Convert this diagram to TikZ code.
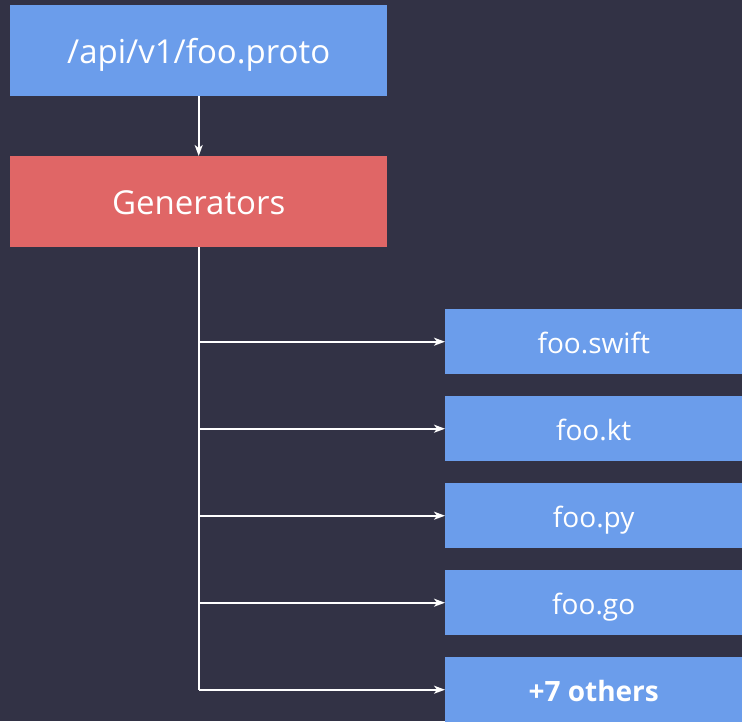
\documentclass[tikz,border=0pt]{standalone}
\usepackage{fontspec}
\setmainfont{Open Sans}
\usetikzlibrary{arrows.meta}
\definecolor{bg}{HTML}{323245}
\definecolor{boxblue}{HTML}{6B9DEB}
\definecolor{boxred}{HTML}{E06666}
\begin{document}
\begin{tikzpicture}[x=1pt,y=-1pt,
  box/.style={fill=#1,draw=none,text=white,anchor=north west,inner sep=0pt,text depth=0pt},
  stage/.style={minimum width=377pt,minimum height=91pt,text height=25pt,font=\fontsize{33}{40}\selectfont},
  output/.style={minimum width=297pt,minimum height=65pt,text height=23pt,font=\fontsize{28}{34}\selectfont},
  wire/.style={draw=white,line width=1.7pt},
  arr/.style={wire,-{Stealth[length=11pt,width=8pt,inset=3pt]}}]
  \fill[bg] (0,0) rectangle (742,721);
  \useasboundingbox (0,0) rectangle (742,721);
  % source and generator stages
  \node[box=boxblue,stage] (proto) at (10,5) {/api/v1/foo.proto};
  \node[box=boxred,stage,text height=26pt] (gen) at (10,156) {Generators};
  \draw[arr] (proto.south) -- (gen.north);
  % generated outputs
  \foreach \name/\txt/\y in {swift/foo.swift/309, kt/foo.kt/396, py/foo.py/483, go/foo.go/570, others/\textbf{+7 others}/657}{
    \node[box=boxblue,output] (\name) at (445,\y) {\txt};
  }
  \coordinate (j1) at (gen.south |- swift.west);
  \coordinate (j2) at (gen.south |- kt.west);
  \coordinate (j3) at (gen.south |- py.west);
  \coordinate (j4) at (gen.south |- go.west);
  \coordinate (j5) at (gen.south |- others.west);
  \draw[wire] (gen.south) -- (j5);
  \draw[arr] (j1) -- (swift.west);
  \draw[arr] (j2) -- (kt.west);
  \draw[arr] (j3) -- (py.west);
  \draw[arr] (j4) -- (go.west);
  \draw[arr] (j5) -- (others.west);
\end{tikzpicture}
\end{document}
